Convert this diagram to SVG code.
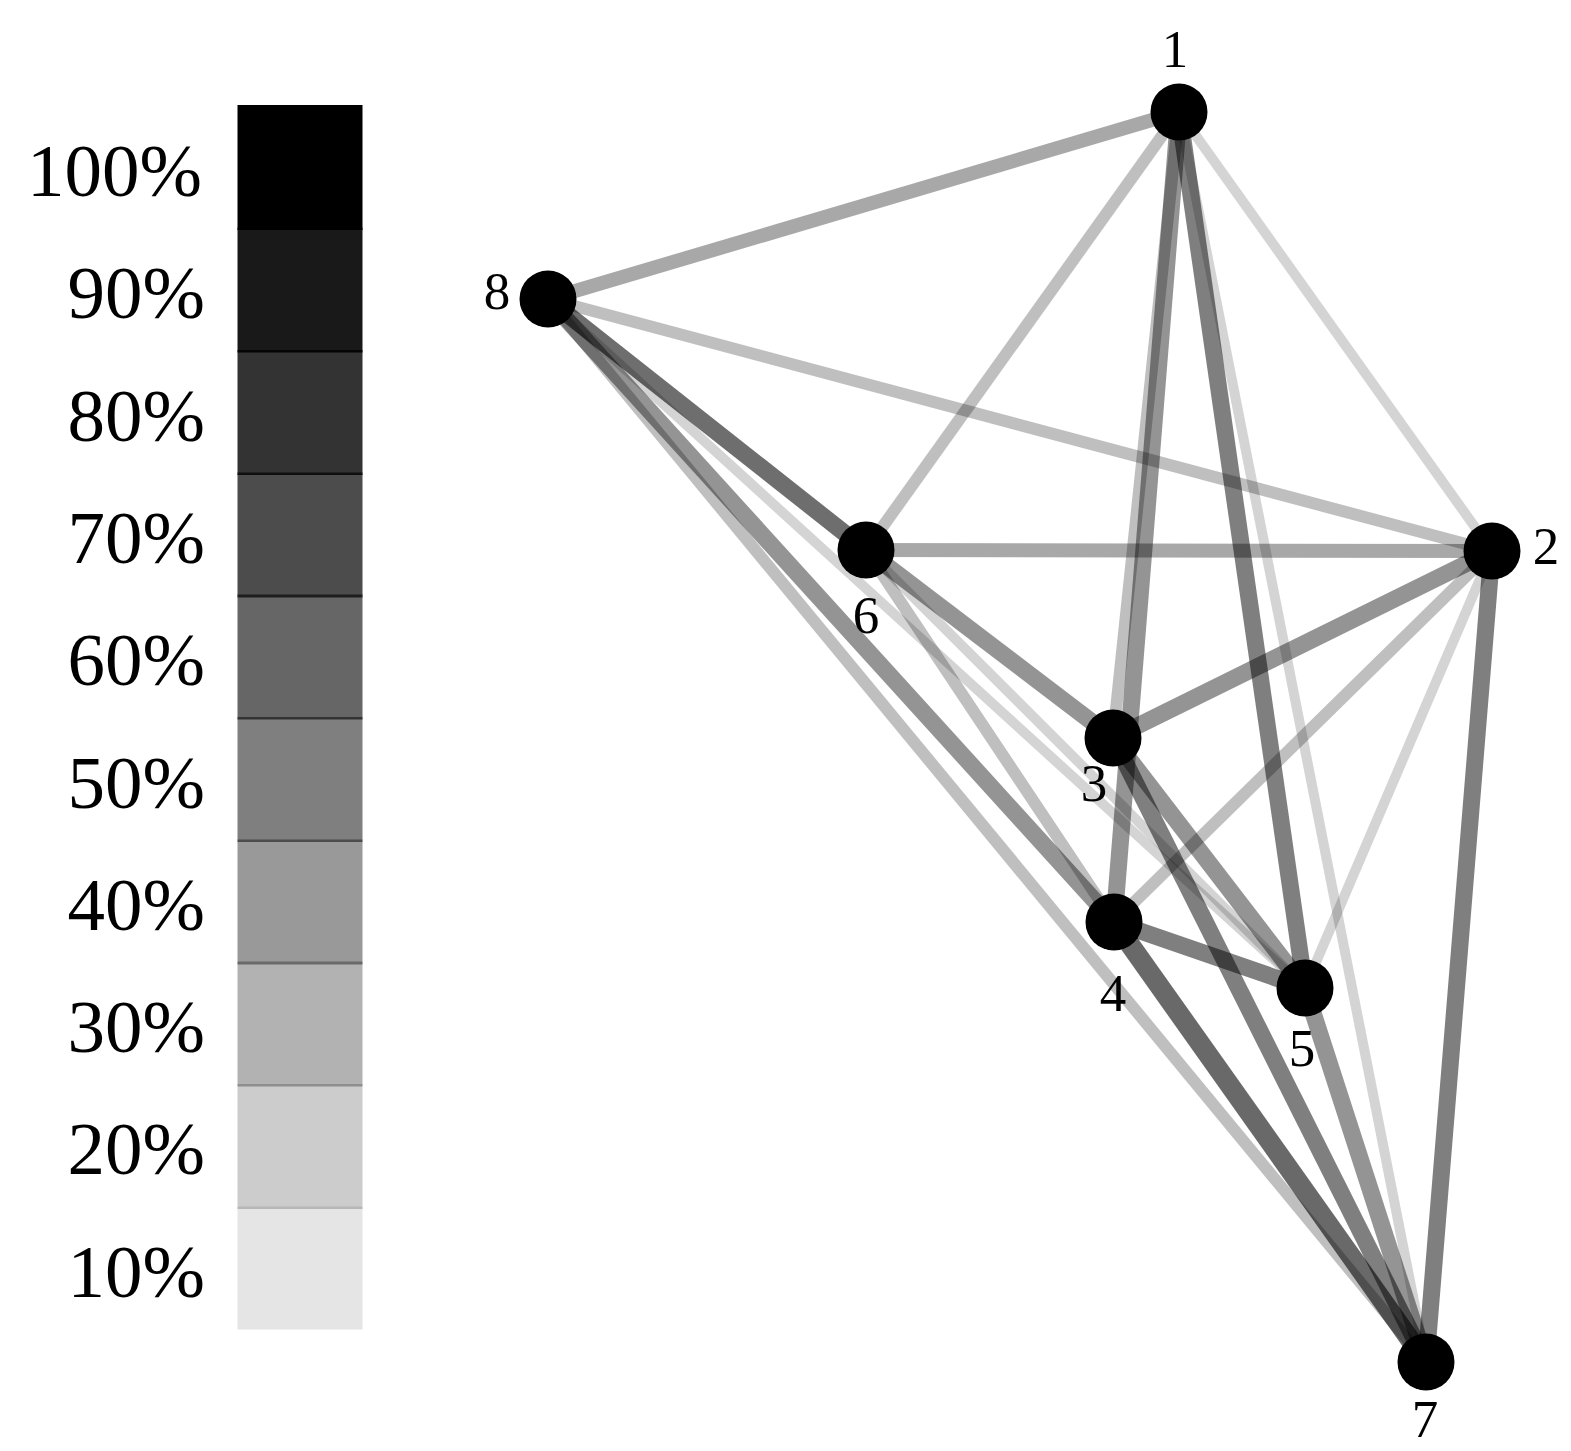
<svg xmlns="http://www.w3.org/2000/svg" width="1571" height="1451" viewBox="0 0 1571 1451">
<style>
.lbl{font-family:"Liberation Serif","DejaVu Serif",serif;fill:#000}
.leg{font-size:75px;text-anchor:end}
.nl{font-size:53px;text-anchor:middle}
.e{stroke:#000;stroke-linecap:butt;fill:none}
.w1{stroke-opacity:0.17;stroke-width:10}
.w2{stroke-opacity:0.25;stroke-width:12}
.w3{stroke-opacity:0.34;stroke-width:14}
.w4{stroke-opacity:0.42;stroke-width:17}
.w5{stroke-opacity:0.5;stroke-width:17}
.w6{stroke-opacity:0.57;stroke-width:17}
.w7{stroke-opacity:0.59;stroke-width:20}
.node{fill:#000}
</style>
<rect width="1571" height="1451" fill="#fff"/>
<g id="legend">
<rect x="237.5" y="105" width="125" height="125" fill="#000" fill-opacity="1"/>
<rect x="237.5" y="227.5" width="125" height="125" fill="#000" fill-opacity="0.9"/>
<rect x="237.5" y="350" width="125" height="125" fill="#000" fill-opacity="0.8"/>
<rect x="237.5" y="472.5" width="125" height="125" fill="#000" fill-opacity="0.7"/>
<rect x="237.5" y="594.5" width="125" height="125" fill="#000" fill-opacity="0.6"/>
<rect x="237.5" y="717" width="125" height="125" fill="#000" fill-opacity="0.5"/>
<rect x="237.5" y="839.5" width="125" height="125" fill="#000" fill-opacity="0.4"/>
<rect x="237.5" y="961.5" width="125" height="125" fill="#000" fill-opacity="0.3"/>
<rect x="237.5" y="1084" width="125" height="125" fill="#000" fill-opacity="0.2"/>
<rect x="237.5" y="1206.5" width="125" height="123" fill="#000" fill-opacity="0.1"/>
<text class="lbl leg" x="202" y="196">100%</text>
<text class="lbl leg" x="205" y="318">90%</text>
<text class="lbl leg" x="205" y="441">80%</text>
<text class="lbl leg" x="205" y="563">70%</text>
<text class="lbl leg" x="205" y="685">60%</text>
<text class="lbl leg" x="205" y="808">50%</text>
<text class="lbl leg" x="205" y="930">40%</text>
<text class="lbl leg" x="205" y="1052">30%</text>
<text class="lbl leg" x="205" y="1174">20%</text>
<text class="lbl leg" x="205" y="1297">10%</text>
</g>
<g id="connectors">
<line class="e w3" x1="548" y1="299" x2="1179" y2="112"/>
<line class="e w2" x1="548" y1="299" x2="1492" y2="551"/>
<line class="e w6" x1="548" y1="299" x2="866" y2="550"/>
<line class="e w4" x1="548" y1="299" x2="1114" y2="922"/>
<line class="e w1" x1="548" y1="299" x2="1305" y2="988"/>
<line class="e w2" x1="548" y1="299" x2="1426" y2="1362"/>
<line class="e w2" x1="1179" y1="112" x2="866" y2="550"/>
<line class="e w1" x1="1179" y1="112" x2="1492" y2="551"/>
<line class="e w2" x1="1179" y1="112" x2="1113" y2="738"/>
<line class="e w4" x1="1179" y1="112" x2="1114" y2="922"/>
<line class="e w5" x1="1179" y1="112" x2="1305" y2="988"/>
<line class="e w1" x1="1179" y1="112" x2="1426" y2="1362"/>
<line class="e w3" x1="866" y1="550" x2="1492" y2="551"/>
<line class="e w4" x1="866" y1="550" x2="1113" y2="738"/>
<line class="e w2" x1="866" y1="550" x2="1114" y2="922"/>
<line class="e w1" x1="866" y1="550" x2="1305" y2="988"/>
<line class="e w4" x1="1492" y1="551" x2="1113" y2="738"/>
<line class="e w2" x1="1492" y1="551" x2="1114" y2="922"/>
<line class="e w1" x1="1492" y1="551" x2="1305" y2="988"/>
<line class="e w5" x1="1492" y1="551" x2="1426" y2="1362"/>
<line class="e w4" x1="1113" y1="738" x2="1305" y2="988"/>
<line class="e w5" x1="1113" y1="738" x2="1426" y2="1362"/>
<line class="e w5" x1="1114" y1="922" x2="1305" y2="988"/>
<line class="e w7" x1="1114" y1="922" x2="1426" y2="1362"/>
<line class="e w4" x1="1305" y1="988" x2="1426" y2="1362"/>
</g>
<g id="node1"><circle class="node" cx="1179" cy="112" r="28.5"/><text class="lbl nl" x="1175" y="67">1</text></g>
<g id="node2"><circle class="node" cx="1492" cy="551" r="28.5"/><text class="lbl nl" x="1546" y="564">2</text></g>
<g id="node3"><circle class="node" cx="1113" cy="738" r="28.5"/><text class="lbl nl" x="1094" y="801">3</text></g>
<g id="node4"><circle class="node" cx="1114" cy="922" r="28.5"/><text class="lbl nl" x="1113" y="1011">4</text></g>
<g id="node5"><circle class="node" cx="1305" cy="988" r="28.5"/><text class="lbl nl" x="1302" y="1066">5</text></g>
<g id="node6"><circle class="node" cx="866" cy="550" r="28.5"/><text class="lbl nl" x="866" y="633">6</text></g>
<g id="node7"><circle class="node" cx="1426" cy="1362" r="28.5"/><text class="lbl nl" x="1425" y="1437">7</text></g>
<g id="node8"><circle class="node" cx="548" cy="299" r="28.5"/><text class="lbl nl" x="497" y="309">8</text></g>
</svg>
